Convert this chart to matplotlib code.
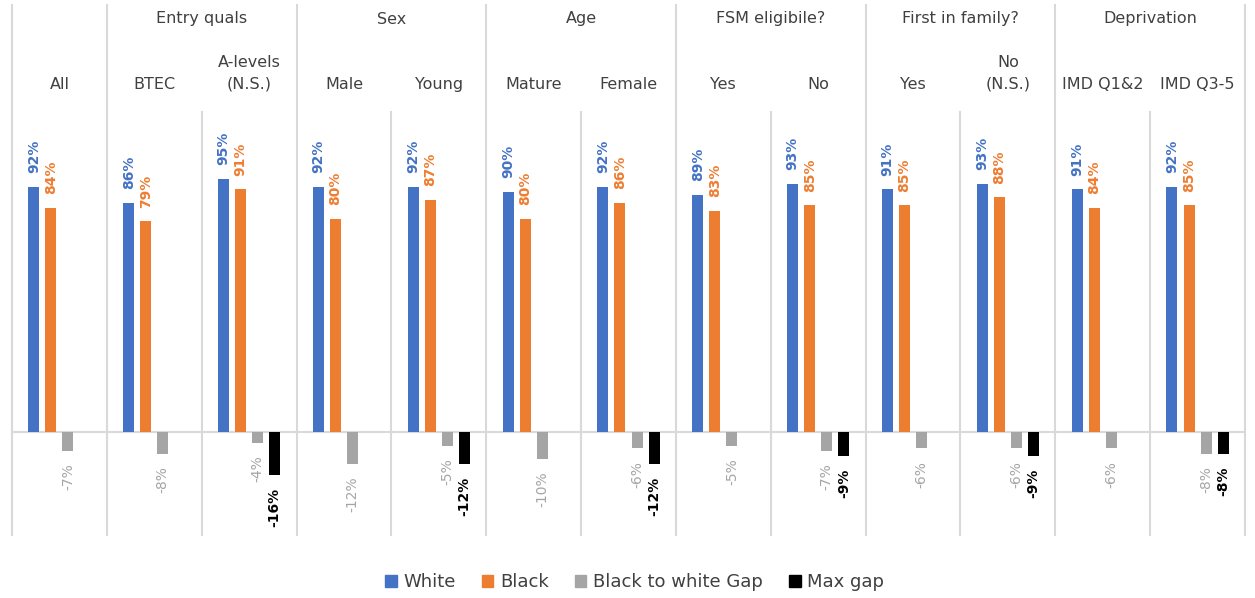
import matplotlib.pyplot as plt
from matplotlib.patches import Patch
import numpy as np

categories = ['All', 'BTEC', 'A-levels\n(N.S.)', 'Male', 'Young', 'Mature', 'Female',
              'Yes', 'No', 'Yes', 'No\n(N.S.)', 'IMD Q1&2', 'IMD Q3-5']
groups = ['', 'Entry quals', 'Sex', 'Age', 'FSM eligibile?', 'First in family?', 'Deprivation']
group_sizes = [1, 2, 2, 2, 2, 2, 2]

white = [92, 86, 95, 92, 92, 90, 92, 89, 93, 91, 93, 91, 92]
black = [84, 79, 91, 80, 87, 80, 86, 83, 85, 85, 88, 84, 85]
gap = [-7, -8, -4, -12, -5, -10, -6, -5, -7, -6, -6, -6, -8]
max_gap = [None, None, -16, None, -12, None, -12, None, -9, None, -9, None, -8]

C_WHITE = '#4472C4'
C_BLACK = '#ED7D31'
C_GAP = '#A5A5A5'
C_MAX = '#000000'
GRID = '#D9D9D9'
TXT = '#404040'

W, H = 1255, 598
fig = plt.figure(figsize=(W / 100, H / 100), dpi=100)

# plot area in pixels
x0, x1, ytop, ybot = 12, 1245, 112, 535
ax = fig.add_axes([x0 / W, 1 - ybot / H, (x1 - x0) / W, (ybot - ytop) / H])

n = len(categories)
x = np.arange(n)
ymin, ymax = -38.5, 120
ax.set_xlim(-0.5, n - 0.5)
ax.set_ylim(ymin, ymax)

def px_to_ax(ypx):
    return (ybot - ypx) / (ybot - ytop)

bw = 0.116
offs = [-0.27, -0.09, 0.09, 0.27]

ax.bar(x + offs[0], white, bw, color=C_WHITE, zorder=3)
ax.bar(x + offs[1], black, bw, color=C_BLACK, zorder=3)
ax.bar(x + offs[2], gap, bw, color=C_GAP, zorder=3)
mg_x = [i for i in range(n) if max_gap[i] is not None]
mg_v = [max_gap[i] for i in mg_x]
ax.bar(np.array(mg_x) + offs[3], mg_v, bw, color=C_MAX, zorder=3)

# data labels
for i in range(n):
    ax.annotate(f'{white[i]}%', (x[i] + offs[0], white[i]), xytext=(0, 10),
                textcoords='offset points', rotation=90, ha='center', va='bottom',
                color=C_WHITE, fontsize=10, fontweight='bold')
    ax.annotate(f'{black[i]}%', (x[i] + offs[1], black[i]), xytext=(0, 10),
                textcoords='offset points', rotation=90, ha='center', va='bottom',
                color=C_BLACK, fontsize=10, fontweight='bold')
    ax.annotate(f'{gap[i]}%', (x[i] + offs[2], gap[i]), xytext=(0, -9),
                textcoords='offset points', rotation=90, ha='center', va='top',
                color=C_GAP, fontsize=10)
for i, v in zip(mg_x, mg_v):
    ax.annotate(f'{v}%', (x[i] + offs[3], v), xytext=(0, -9),
                textcoords='offset points', rotation=90, ha='center', va='top',
                color=C_MAX, fontsize=10, fontweight='bold')

# zero line
ax.axhline(0, color=GRID, lw=1.5, zorder=2)

# vertical separators
trans = ax.get_xaxis_transform()
top_full = px_to_ax(5)
bounds = np.cumsum([0] + group_sizes) - 0.5
for b in range(n + 1):
    xb = b - 0.5
    yt = top_full if xb in bounds else 1.0
    ax.plot([xb, xb], [0, yt], color=GRID, lw=1.5, transform=trans,
            clip_on=False, zorder=1)

# category labels
for i, c in enumerate(categories):
    ax.text(x[i], px_to_ax(92), c, transform=trans, ha='center', va='bottom',
            fontsize=11.5, color=TXT, multialignment='center', linespacing=1.6)

start = 0
for g, s in zip(groups, group_sizes):
    if g:
        ax.text(start + (s - 1) / 2, px_to_ax(19), g, transform=trans,
                ha='center', va='center', fontsize=11.5, color=TXT)
    start += s

ax.axis('off')

handles = [Patch(color=C_WHITE, label='White'),
           Patch(color=C_BLACK, label='Black'),
           Patch(color=C_GAP, label='Black to white Gap'),
           Patch(color=C_MAX, label='Max gap')]
fig.legend(handles=handles, loc='center', bbox_to_anchor=(0.5056, 1 - 582 / H),
           ncol=4, frameon=False, fontsize=13, handlelength=0.65, handleheight=0.65,
           handletextpad=0.35, columnspacing=1.45, labelcolor=TXT)

fig.savefig('out.png', dpi=100)
